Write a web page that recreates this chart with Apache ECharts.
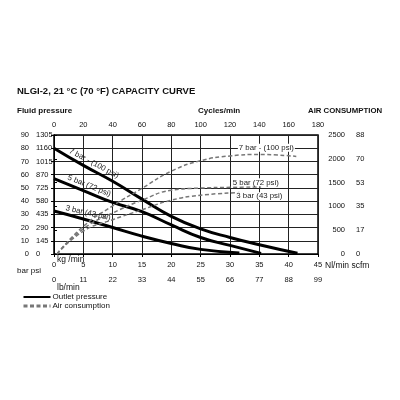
<!DOCTYPE html>
<html>
<head>
<meta charset="utf-8">
<script src="https://cdn.jsdelivr.net/npm/echarts@6.0.0/dist/echarts.min.js"></script>
<style>
html, body { margin: 0; background: #fff; }
#chart { width: 400px; height: 400px; }
</style>
</head>
<body>
<div id="chart"></div>
<script>
// outlet pressure (bar) against flow (kg/min)
var kg7 = [0, 5, 10, 15, 20, 25, 30, 35, 41.5];
var bar7 = [80, 67, 55, 41.5, 28.5, 19, 12.5, 7, 0.5];
var kg5 = [0, 5, 10, 15, 20, 25, 30, 35.3];
var bar5 = [57, 48, 39, 32, 22, 12.5, 6.5, 0.5];
var kg3 = [0, 5, 10, 15, 20, 25, 31.6];
var bar3 = [32.5, 26.5, 20, 13.5, 8, 3.5, 0.8];

// air consumption (Nl/min) against flow (kg/min)
var airKg7 = [0.5, 5, 10, 15, 20, 25, 30, 35, 41.3];
var air7 = [0, 580, 1010, 1380, 1740, 1960, 2060, 2090, 2050];
var airKg5 = [0.5, 5, 10, 15, 20, 25, 30, 35.3];
var air5 = [0, 530, 860, 1130, 1340, 1385, 1400, 1410];
var airKg3 = [0.5, 5, 10, 15, 20, 25, 31.6];
var air3 = [0, 480, 720, 930, 1130, 1235, 1290];

// secondary tick labels
var psiLabels = ['0', '145', '290', '435', '580', '725', '870', '1015', '1160', '1305'];
var lbLabels = ['0', '11', '22', '33', '44', '55', '66', '77', '88', '99'];
var scfmLabels = ['0', '17', '35', '53', '70', '88'];

var curveNames = ['7 bar - (100 psi)', '5 bar (72 psi)', '3 bar (43 psi)'];

function pairs(xs, ys) {
    return xs.map(function (x, i) { return [x, ys[i]]; });
}

var font = '"Liberation Sans", Arial, sans-serif';
var tickFont = { fontFamily: font, fontSize: 7.5, color: '#111' };

function tag(coord, text, rot, bg) {
    return {
        symbol: 'circle',
        symbolSize: 1,
        itemStyle: { color: 'rgba(0,0,0,0)' },
        label: {
            show: true,
            position: 'inside',
            rotate: rot,
            fontFamily: font,
            fontSize: 7.8,
            color: '#222',
            backgroundColor: bg ? '#fff' : 'transparent',
            padding: [0, 1],
            formatter: text
        },
        data: [{ coord: coord }]
    };
}

function outlet(xs, ys, mp) {
    return {
        name: 'Outlet pressure',
        type: 'line',
        xAxisIndex: 0,
        yAxisIndex: 0,
        smooth: true,
        symbol: 'none',
        itemStyle: { color: '#000' },
        lineStyle: { color: '#000', width: 3 },
        data: pairs(xs, ys),
        markPoint: mp,
        z: 3
    };
}

function air(xs, ys, mp) {
    return {
        name: 'Air consumption',
        type: 'line',
        xAxisIndex: 0,
        yAxisIndex: 2,
        smooth: true,
        symbol: 'none',
        itemStyle: { color: '#777' },
        lineStyle: { color: '#777', width: 1.5, type: [4, 2.5] },
        data: pairs(xs, ys),
        markPoint: mp,
        z: 4
    };
}

var myChart = echarts.init(document.getElementById('chart'));

var option = {
    animation: false,
    backgroundColor: '#fff',
    grid: {
        left: 54, right: 82, top: 135, bottom: 146,
        show: true, borderColor: '#000', borderWidth: 1.5
    },
    legend: {
        orient: 'vertical',
        left: 17,
        top: 288,
        itemWidth: 27,
        itemHeight: 8,
        itemGap: 1,
        itemStyle: { opacity: 0 },
        textStyle: { fontFamily: font, fontSize: 8, color: '#111', padding: [0, 0, 0, -3] },
        data: [
            { name: 'Outlet pressure' },
            { name: 'Air consumption', lineStyle: { width: 3, color: '#777' } }
        ]
    },
    xAxis: [
        {
            type: 'value', position: 'bottom', min: 0, max: 45, interval: 5, offset: 18,
            axisLine: { show: true, lineStyle: { color: '#000', width: 1 } },
            axisTick: { show: true, length: 3, lineStyle: { color: '#000' } },
            axisLabel: Object.assign({ inside: true, margin: 3 }, tickFont),
            splitLine: { show: true, lineStyle: { color: '#222', width: 1 } }
        },
        {
            type: 'value', position: 'bottom', min: 0, max: 45, interval: 5, offset: 18,
            axisLine: { show: false }, axisTick: { show: false }, splitLine: { show: false },
            axisLabel: Object.assign({
                margin: 4,
                formatter: function (v) { return lbLabels[Math.round(v / 5)]; }
            }, tickFont)
        },
        {
            type: 'value', position: 'top', min: 0, max: 180, interval: 20,
            axisLine: { show: false }, axisTick: { show: false }, splitLine: { show: false },
            axisLabel: Object.assign({ margin: 6 }, tickFont)
        }
    ],
    yAxis: [
        {
            type: 'value', position: 'left', min: 0, max: 90, interval: 10, offset: 21,
            axisLine: { show: true, lineStyle: { color: '#000', width: 1 } },
            axisTick: { show: true, length: 3, lineStyle: { color: '#000' } },
            axisLabel: Object.assign({ margin: 4 }, tickFont),
            splitLine: { show: true, lineStyle: { color: '#222', width: 1 } }
        },
        {
            type: 'value', position: 'left', min: 0, max: 90, interval: 10, offset: 21,
            axisLine: { show: false }, axisTick: { show: false }, splitLine: { show: false },
            axisLabel: Object.assign({
                inside: true, margin: 3,
                formatter: function (v) { return psiLabels[Math.round(v / 10)]; }
            }, tickFont)
        },
        {
            type: 'value', position: 'right', min: 0, max: 2500, interval: 500, offset: 33,
            axisLine: { show: true, lineStyle: { color: '#000', width: 1 } },
            axisTick: { show: true, length: 3, lineStyle: { color: '#000' } },
            axisLabel: Object.assign({
                inside: true, margin: 6,
                formatter: function (v) { return String(v); }
            }, tickFont),
            splitLine: { show: false }
        },
        {
            type: 'value', position: 'right', min: 0, max: 2500, interval: 500, offset: 33,
            axisLine: { show: false }, axisTick: { show: false }, splitLine: { show: false },
            axisLabel: Object.assign({
                margin: 5,
                formatter: function (v) { return scfmLabels[Math.round(v / 500)]; }
            }, tickFont)
        }
    ],
    graphic: [
        { type: 'text', left: 17, top: 86, style: { text: 'NLGI-2, 21 °C (70 °F) CAPACITY CURVE', font: 'bold 9.5px ' + font, fill: '#111' } },
        { type: 'text', left: 17, top: 107, style: { text: 'Fluid pressure', font: 'bold 8px ' + font, fill: '#111' } },
        { type: 'text', left: 198, top: 107, style: { text: 'Cycles/min', font: 'bold 8px ' + font, fill: '#111' } },
        { type: 'text', left: 308, top: 107, style: { text: 'AIR CONSUMPTION', font: 'bold 7.8px ' + font, fill: '#111' } },
        { type: 'text', left: 17, top: 267, style: { text: 'bar psi', font: '8px ' + font, fill: '#111' } },
        { type: 'text', left: 57, top: 255, style: { text: 'kg /min', font: '8.5px ' + font, fill: '#111' } },
        { type: 'text', left: 57, top: 283, style: { text: 'lb/min', font: '8.5px ' + font, fill: '#111' } },
        { type: 'text', left: 325, top: 261, style: { text: 'Nl/min scfm', font: '8.5px ' + font, fill: '#111' } }
    ],
    series: [
        outlet(kg7, bar7, tag([6.8, 68.5], curveNames[0], -28, false)),
        outlet(kg5, bar5, tag([6.0, 51.5], curveNames[1], -22, false)),
        outlet(kg3, bar3, tag([5.8, 31], curveNames[2], -13, false)),
        air(airKg7, air7, tag([36.2, 2230], curveNames[0], 0, true)),
        air(airKg5, air5, tag([34.4, 1505], curveNames[1], 0, true)),
        air(airKg3, air3, tag([35, 1215], curveNames[2], 0, true))
    ]
};

myChart.setOption(option, true);

window.addEventListener('resize', function () {
    myChart.resize();
});
</script>
</body>
</html>
